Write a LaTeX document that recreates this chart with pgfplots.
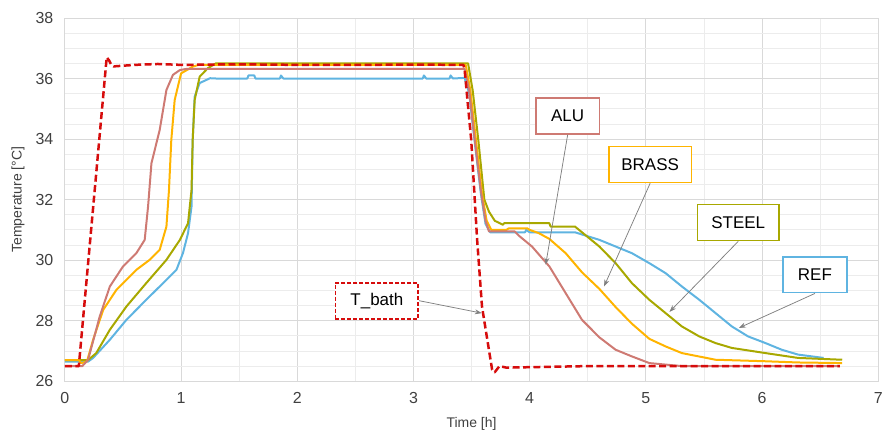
\documentclass[border=0pt]{standalone}
\usepackage{pgfplots}
\pgfplotsset{compat=1.18}
\usepackage{fontspec}
\setmainfont{Liberation Sans}
\usetikzlibrary{arrows.meta}
\definecolor{tbath}{RGB}{214,12,12}
\definecolor{alu}{RGB}{206,122,115}
\definecolor{brass}{RGB}{255,180,0}
\definecolor{steel}{RGB}{168,168,0}
\definecolor{refc}{RGB}{95,180,225}
\definecolor{gridmaj}{RGB}{217,217,217}
\definecolor{gridmin}{RGB}{236,236,236}
\definecolor{labelc}{RGB}{64,64,64}
\definecolor{arrowc}{RGB}{128,128,128}
\begin{document}
\begin{tikzpicture}
\begin{axis}[
  scale only axis, width=815bp, height=364bp,
  xmin=0, xmax=7, ymin=26, ymax=38,
  xtick={0,1,...,7}, ytick={26,28,...,38},
  minor x tick num=1, minor y tick num=3,
  grid=both,
  major grid style={draw=gridmaj, line width=0.8bp},
  minor grid style={draw=gridmin, line width=0.8bp},
  axis line style={draw=gridmaj, line width=0.8bp},
  major tick length=0pt, minor tick length=0pt,
  tick style={draw=none},
  /pgf/number format/assume math mode=true,
  ticklabel style={font=\fontsize{16bp}{19bp}\selectfont, text=labelc},
  xticklabel style={yshift=-8bp},
  yticklabel style={xshift=-8bp},
  xlabel={Time [h]}, ylabel={Temperature [°C]},
  every axis x label/.style={at={(axis description cs:0.5,0)}, anchor=center, yshift=-43bp, font=\fontsize{14bp}{17bp}\selectfont, text=labelc},
  every axis y label/.style={at={(axis description cs:0,0.5)}, rotate=90, anchor=center, yshift=47bp, font=\fontsize{14bp}{17bp}\selectfont, text=labelc},
  every axis plot/.append style={line join=round},
]
% REF
\addplot[refc, line width=2bp] coordinates {
(0,26.65)(0.2,26.65)(0.243,26.77)(0.387,27.37)(0.53,28.03)(0.70,28.69)(0.874,29.35)(0.96,29.68)(1.016,30.23)(1.06,30.89)(1.09,31.77)(1.10,33.97)(1.117,35.4)(1.16,35.85)(1.25,36.01)(1.3,36.0)
(1.57,36.0)(1.58,36.1)(1.63,36.1)(1.64,36.0)(1.85,36.0)(1.86,36.1)(1.88,36.0)(3.08,36.0)(3.09,36.1)(3.11,36.0)(3.31,36.0)(3.32,36.1)(3.34,36.0)
(3.44,36.02)(3.48,35.5)(3.53,33.8)(3.58,32.2)(3.62,31.2)(3.66,30.92)(3.96,30.92)(3.97,31.0)(4.0,30.92)(4.39,30.92)(4.60,30.67)(4.74,30.45)(4.88,30.23)(5.03,29.9)(5.17,29.57)(5.31,29.13)(5.46,28.69)(5.60,28.25)(5.74,27.81)(5.88,27.48)(6.03,27.26)(6.17,27.04)(6.31,26.88)(6.53,26.77)
};
% STEEL
\addplot[steel, line width=2bp] coordinates {
(0,26.7)(0.2,26.7)(0.27,26.93)(0.387,27.7)(0.53,28.47)(0.70,29.24)(0.874,30.01)(0.99,30.67)(1.06,31.22)(1.09,32.32)(1.10,33.97)(1.117,35.29)(1.16,36.06)(1.23,36.34)(1.30,36.5)(3.47,36.5)(3.51,35.6)(3.56,33.9)(3.61,32.0)(3.65,31.6)(3.70,31.3)(3.77,31.17)(3.78,31.22)(4.17,31.22)(4.18,31.11)(4.39,31.11)(4.60,30.45)(4.74,29.90)(4.88,29.24)(5.03,28.69)(5.17,28.25)(5.31,27.81)(5.46,27.48)(5.60,27.26)(5.74,27.1)(6.03,26.93)(6.31,26.77)(6.69,26.71)
};
% BRASS
\addplot[brass, line width=2bp] coordinates {
(0,26.7)(0.12,26.7)(0.14,26.6)(0.19,26.65)(0.243,27.37)(0.33,28.36)(0.444,29.02)(0.615,29.68)(0.73,30.01)(0.816,30.34)(0.874,31.11)(0.896,32.32)(0.916,33.97)(0.945,35.29)(1.0,36.17)(1.10,36.39)(1.15,36.45)(3.45,36.45)(3.49,35.6)(3.54,33.9)(3.59,32.2)(3.63,31.3)(3.67,31.0)(3.80,31.0)(3.82,31.05)(3.98,31.05)(4.0,31.0)(4.08,30.89)(4.17,30.7)(4.31,30.23)(4.45,29.6)(4.60,29.05)(4.74,28.45)(4.88,27.9)(5.03,27.4)(5.17,27.15)(5.31,26.93)(5.60,26.71)(6.03,26.66)(6.31,26.62)(6.69,26.6)
};
% ALU
\addplot[alu, line width=2bp] coordinates {
(0,26.5)(0.15,26.5)(0.20,26.71)(0.30,28.14)(0.387,29.13)(0.50,29.79)(0.615,30.23)(0.687,30.67)(0.716,31.77)(0.745,33.2)(0.816,34.3)(0.874,35.62)(0.93,36.12)(0.99,36.28)(1.05,36.32)(3.44,36.32)(3.48,35.6)(3.53,33.9)(3.58,32.3)(3.62,31.3)(3.65,30.95)(3.87,30.95)(3.91,30.8)(4.02,30.45)(4.17,29.79)(4.31,28.91)(4.45,28.03)(4.60,27.45)(4.74,27.04)(4.88,26.82)(5.03,26.6)(5.31,26.5)(6.67,26.5)
};
% T_bath
\addplot[tbath, line width=2.5bp, dash pattern=on 7bp off 3.5bp] coordinates {
(0,26.5)(0.12,26.5)(0.36,36.7)(0.38,36.6)(0.40,36.45)(0.42,36.4)(0.6,36.45)(0.8,36.48)(1.0,36.45)(1.5,36.47)(2.0,36.45)(2.5,36.45)(3.0,36.46)(3.43,36.45)(3.44,36.3)(3.497,33.97)(3.548,30.67)(3.59,28.46)(3.677,26.38)(3.70,26.3)(3.74,26.5)(3.80,26.45)(4.5,26.5)(5.5,26.5)(6.67,26.5)
};
% annotations
\begin{scope}[every node/.style={font=\fontsize{17bp}{20bp}\selectfont, fill=white, inner xsep=0pt, minimum height=36bp, align=center}]
\node[draw=alu, line width=1.6bp, minimum width=64bp] (alu) at (axis cs:4.327,34.76) {ALU};
\node[draw=brass, line width=1.6bp, minimum width=83bp] (brass) at (axis cs:5.037,33.16) {BRASS};
\node[draw=steel, line width=1.6bp, minimum width=82bp] (steel) at (axis cs:5.795,31.24) {STEEL};
\node[draw=refc, line width=1.6bp, minimum width=64bp] (ref) at (axis cs:6.455,29.52) {REF};
\node[draw=tbath, line width=1.8bp, dash pattern=on 4bp off 2bp, minimum width=83bp] (tb) at (axis cs:2.685,28.66) {T\_bath};
\end{scope}
\begin{scope}[arrowc, line width=0.75bp, -{Stealth[length=7bp,width=5bp]}]
\draw (alu.south) -- (axis cs:4.138,29.85);
\draw (brass.south) -- (axis cs:4.64,29.13);
\draw (steel.south) -- (axis cs:5.203,28.29);
\draw (ref.south) -- (axis cs:5.80,27.76);
\draw (tb.east) -- (axis cs:3.588,28.25);
\end{scope}
\end{axis}
\path (current axis.south west) ++(-65bp,-53bp) rectangle ([xshift=6bp,yshift=18bp]current axis.north east);
\end{tikzpicture}
\end{document}
